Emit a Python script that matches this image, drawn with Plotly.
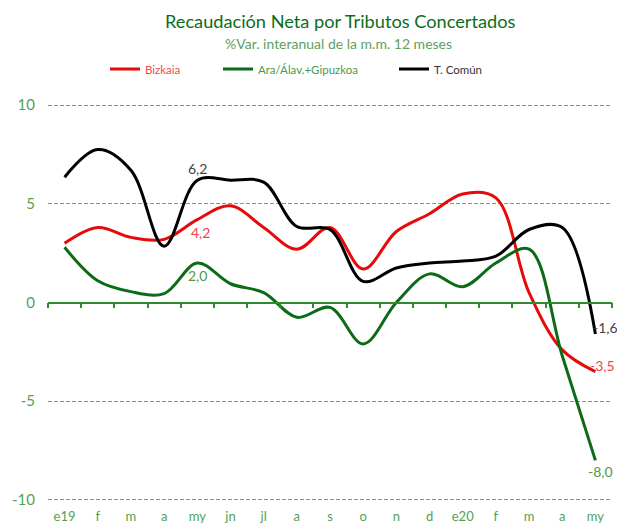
import plotly.graph_objects as go

# ---- data ----
months = ["e19", "f", "m", "a", "my", "jn", "jl", "a", "s", "o", "n", "d",
          "e20", "f", "m", "a", "my"]
bizkaia = [3.0, 3.8, 3.3, 3.2, 4.2, 4.9, 3.8, 2.7, 3.8, 1.7, 3.6, 4.5,
           5.5, 5.3, 0.5, -2.4, -3.5]
ara_gipuzkoa = [2.8, 1.1, 0.55, 0.45, 2.0, 0.95, 0.5, -0.75, -0.25, -2.1, 0.0, 1.45,
                0.8, 2.0, 2.7, -2.7, -8.0]
t_comun = [6.35, 7.75, 6.7, 2.85, 6.2, 6.2, 6.1, 3.85, 3.7, 1.07, 1.75, 2.0,
           2.1, 2.35, 3.7, 3.8, -1.6]
y_ticks = [-10, -5, 0, 5, 10]
y_ticktext = ["-10", "-5", "0", "5", "10"]
label_idx_mid = 4        # "my" 2019
label_idx_end = len(months) - 1

RED = "#e60a0a"
GREEN = "#0b6b16"
BLACK = "#000000"
AXIS_GREEN = "#2f8a2f"
TXT_GREEN = "#55a055"
GRID = "#5fb35f"
FONT = "Lato"

x = list(range(len(months)))

fig = go.Figure()
fig.add_trace(go.Scatter(
    x=x, y=bizkaia, mode="lines", legend="legend",
    name="<span style='color:#ee4b4b'>Bizkaia</span>",
    line=dict(color=RED, width=3, shape="spline", smoothing=1.0)))
fig.add_trace(go.Scatter(
    x=x, y=ara_gipuzkoa, mode="lines", legend="legend2",
    name="<span style='color:#4c9a4c'>Ara/Álav.+Gipuzkoa</span>",
    line=dict(color=GREEN, width=3, shape="spline", smoothing=1.0)))
fig.add_trace(go.Scatter(
    x=x, y=t_comun, mode="lines", legend="legend3",
    name="<span style='color:#333333'>T. Común</span>",
    line=dict(color=BLACK, width=3, shape="spline", smoothing=1.0)))
# invisible trace to carry the zero-line axis with boundary ticks
fig.add_trace(go.Scatter(
    x=x, y=t_comun, xaxis="x2", mode="lines", showlegend=False,
    hoverinfo="skip", line=dict(color="rgba(0,0,0,0)", width=0)))

# data labels
def fmt(v):
    return f"{v:.1f}".replace(".", ",")

ann = [
    dict(x=label_idx_mid, y=t_comun[label_idx_mid], text=fmt(t_comun[label_idx_mid]),
         yshift=12, xshift=0, font=dict(color="#444444")),
    dict(x=label_idx_mid, y=bizkaia[label_idx_mid], text=fmt(bizkaia[label_idx_mid]),
         yshift=-13, xshift=3, font=dict(color="#ef4444")),
    dict(x=label_idx_mid, y=ara_gipuzkoa[label_idx_mid], text=fmt(ara_gipuzkoa[label_idx_mid]),
         yshift=-12, xshift=0, font=dict(color="#4c9a4c")),
    dict(x=label_idx_end, y=t_comun[label_idx_end], text=fmt(t_comun[label_idx_end]),
         yshift=7, xshift=10, font=dict(color="#444444")),
    dict(x=label_idx_end, y=bizkaia[label_idx_end], text=fmt(bizkaia[label_idx_end]),
         yshift=6, xshift=7, font=dict(color="#ef4444")),
    dict(x=label_idx_end, y=ara_gipuzkoa[label_idx_end], text=fmt(ara_gipuzkoa[label_idx_end]),
         yshift=-11, xshift=5, font=dict(color="#4c9a4c")),
]
for a in ann:
    a.update(showarrow=False, xref="x", yref="y")
    a["font"].update(size=14, family=FONT)

ann += [
    dict(text="Recaudación Neta por Tributos Concertados", xref="paper", yref="paper",
         x=0.518, y=1.21, xanchor="center", yanchor="middle", showarrow=False,
         font=dict(family=FONT, size=18.2, color="#0a6e1a")),
    dict(text="%Var. interanual de la m.m. 12 meses", xref="paper", yref="paper",
         x=0.515, y=1.153, xanchor="center", yanchor="middle", showarrow=False,
         font=dict(family=FONT, size=14, color="#5fa05f")),
]

legend_common = dict(orientation="h", xref="container", yref="container",
                     yanchor="middle", y=1 - 69 / 527, xanchor="left",
                     bgcolor="rgba(0,0,0,0)", font=dict(family=FONT, size=11.5),
                     itemwidth=30)

fig.update_layout(
    width=617, height=527,
    margin=dict(l=48, r=5, t=104, b=26, autoexpand=False),
    paper_bgcolor="white", plot_bgcolor="white",
    font=dict(family=FONT),
    annotations=ann,
    showlegend=True,
    legend=dict(legend_common, x=105 / 617),
    legend2=dict(legend_common, x=218 / 617),
    legend3=dict(legend_common, x=394 / 617),
    xaxis=dict(range=[-0.5, len(months) - 0.5], tickmode="array", tickvals=x,
               ticktext=months, showgrid=False, zeroline=False, showline=False,
               ticks="", ticklabelstandoff=6, automargin=False,
               tickfont=dict(family=FONT, size=13, color=TXT_GREEN)),
    xaxis2=dict(overlaying="x", anchor="free", position=0.5, automargin=False,
                range=[-0.5, len(months) - 0.5], tickmode="linear", tick0=-0.5, dtick=1,
                ticks="outside", ticklen=5, tickwidth=1.5, tickcolor=AXIS_GREEN,
                showline=True, linecolor=AXIS_GREEN, linewidth=1.5,
                showticklabels=False, showgrid=False, zeroline=False),
    yaxis=dict(range=[-10.06, 10.06], tickmode="array", tickvals=y_ticks,
               ticktext=y_ticktext,
               showgrid=True, gridcolor=GRID, griddash="4px,2px", gridwidth=1,
               zeroline=False, showline=False, ticks="", ticklabelstandoff=12,
               automargin=False,
               tickfont=dict(family=FONT, size=15, color=TXT_GREEN)),
)

fig.write_html("out.html", config={"displayModeBar": False},
               post_script="document.body.style.margin='0';document.body.style.padding='0';")
